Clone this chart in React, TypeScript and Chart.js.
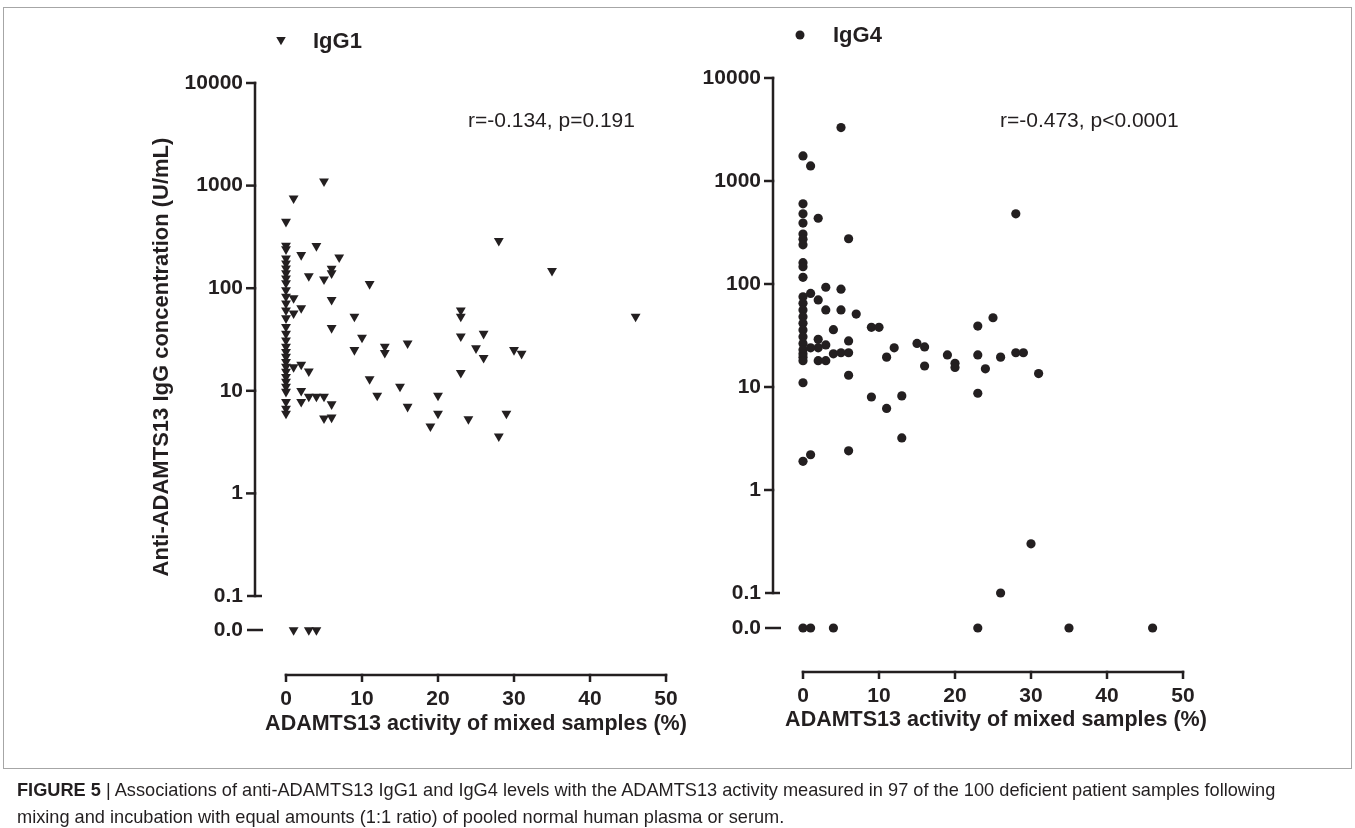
import React, { useEffect, useRef } from 'react';
import { Chart, registerables } from 'chart.js';

Chart.register(...registerables);

// ---------- data ----------
const xTicks = [0, 10, 20, 30, 40, 50];
const yTicks = [0, 0.1, 1, 10, 100, 1000, 10000];
const yTickLabels = ['0.0', '0.1', '1', '10', '100', '1000', '10000'];

// IgG1 (left panel): x = ADAMTS13 activity (%), y = concentration (U/mL); 0 = "0.0" row
const igg1X = [
  0, 0, 0, 0, 0, 0, 0, 0, 0, 0, 0, 0, 0, 0, 0, 0, 0, 0, 0, 0, 0, 0, 0, 0, 0, 0, 0, 0, 0, 0,
  1, 5, 2, 4, 7, 6, 6, 3, 5, 11, 6, 1, 2, 1, 9, 6, 28, 23, 23, 23, 26, 25, 10, 2, 1, 3, 2, 2,
  3, 4, 5, 6, 5, 6, 9, 13, 13, 16, 26, 23, 11, 15, 12, 20, 16, 20, 24, 19, 28, 29, 35, 46, 30, 31,
  1, 3, 4,
];
const igg1Y = [
  445, 260, 240, 195, 175, 156, 140, 125, 112, 96, 83, 71, 61, 51, 42, 36, 31, 27, 24, 21.5,
  19.2, 17.2, 15.4, 13.7, 12.3, 11, 9.8, 7.8, 6.7, 6.0,
  750, 1100, 211, 258, 200, 155, 140, 131, 122, 110, 77, 80, 64, 57, 53, 41, 290, 61, 53, 34,
  36, 26, 33, 18, 17, 15.5, 10, 7.8,
  8.8, 8.8, 8.8, 7.4, 5.4, 5.5, 25, 27, 23.5, 29, 21, 15, 13, 11, 9, 9, 7, 6, 5.3, 4.5, 3.6, 6,
  148, 53, 25, 23,
  0, 0, 0,
];

// IgG4 (right panel)
const igg4X = [
  0, 0, 0, 0, 0, 0, 0, 0, 0, 0, 0, 0, 0, 0, 0, 0, 0, 0, 0, 0, 0, 0, 0, 0, 0,
  5, 1, 2, 6, 28, 1, 3, 5, 2, 3, 5, 7, 4, 9, 10, 23, 25, 2, 6, 3, 12, 15, 16, 2, 2, 3, 4, 5, 6,
  6, 11, 16, 19, 20, 20, 23, 24, 26, 28, 29, 31, 9, 11, 13, 23, 13, 1, 6, 30, 26, 1,
  1, 4, 23, 35, 46,
];
const igg4Y = [
  1750, 600, 480, 390, 305, 272, 240, 161, 147, 116, 75, 65, 56, 48, 41.5, 35.7, 30.8, 26.5,
  23, 21, 19.5, 18, 11, 1.9, 0,
  3300, 1400, 435, 275, 480, 81, 93, 89, 70, 56, 56, 51, 36, 38, 38, 39, 47, 29, 28, 25.6, 24,
  26.5, 24.5, 24, 18, 18, 21, 21.5, 21.5,
  13, 19.5, 16, 20.5, 17, 15.5, 20.5, 15, 19.5, 21.5, 21.5, 13.5, 8, 6.2, 8.2, 8.7, 3.2, 2.2,
  2.4, 0.3, 0.1, 24,
  0, 0, 0, 0, 0,
];

// ---------- styling / layout ----------
const INK = '#231f20';
const FONT = '"Liberation Sans", Arial, Helvetica, sans-serif';
const W = 1355;
const H = 828;
const Y_W = 80;
const X_H = 90;

type Panel = {
  axisX: number;
  xZero: number;
  xFifty: number;
  yTop: number;
  yPoint1: number;
  yZero: number;
  xAxisGap: number;
  labelCenter: number;
  xTitle: string;
  xTitleX: number;
  xTitleY: number;
  yTitle?: string;
  yTitleX?: number;
  yTitleY?: number;
  legend: string;
  legendMarkX: number;
  legendTextX: number;
  legendY: number;
  note: string;
  noteX: number;
  noteY: number;
  marker: 'triangle' | 'circle';
  xs: number[];
  ys: number[];
};

const panels: Panel[] = [
  {
    axisX: 255, xZero: 286, xFifty: 666,
    yTop: 83, yPoint1: 596, yZero: 630,
    xAxisGap: 45, labelCenter: 699,
    xTitle: 'ADAMTS13 activity of mixed samples (%)', xTitleX: 476, xTitleY: 724,
    yTitle: 'Anti-ADAMTS13 IgG concentration (U/mL)', yTitleX: 162, yTitleY: 357,
    legend: 'IgG1', legendMarkX: 281, legendTextX: 313, legendY: 42,
    note: 'r=-0.134, p=0.191', noteX: 468, noteY: 121,
    marker: 'triangle', xs: igg1X, ys: igg1Y,
  },
  {
    axisX: 773, xZero: 803, xFifty: 1183,
    yTop: 78, yPoint1: 593, yZero: 628,
    xAxisGap: 44, labelCenter: 696,
    xTitle: 'ADAMTS13 activity of mixed samples (%)', xTitleX: 996, xTitleY: 720,
    legend: 'IgG4', legendMarkX: 800, legendTextX: 833, legendY: 36,
    note: 'r=-0.473, p<0.0001', noteX: 1000, noteY: 121,
    marker: 'circle', xs: igg4X, ys: igg4Y,
  },
];

function PanelChart({ p }: { p: Panel }) {
  const ref = useRef<HTMLCanvasElement | null>(null);

  useEffect(() => {
    const canvas = ref.current;
    if (!canvas) return;
    const decade = (p.yPoint1 - p.yTop) / 5;
    const zeroVal = Math.pow(10, -1 - (p.yZero - p.yPoint1) / decade);
    const pxPerUnit = (p.xFifty - p.xZero) / 50;
    const xMin = -(p.xZero - p.axisX) / pxPerUnit;
    const tickFont = { family: FONT, size: 21, weight: 'bold' as const, lineHeight: 1.2 };
    const xPad = p.labelCenter - p.yZero - (21 * 1.2) / 2;

    const axisPlugin = {
      id: 'brokenAxes',
      beforeDatasetsDraw(chart: any) {
        const ctx = chart.ctx as CanvasRenderingContext2D;
        const xs = chart.scales.x;
        const ys = chart.scales.y;
        const ax = chart.chartArea.left;
        const lw = 2.5;
        ctx.save();
        ctx.strokeStyle = INK;
        ctx.lineWidth = lw;
        ctx.lineCap = 'butt';
        const yTopPx = ys.getPixelForValue(10000);
        const y01 = ys.getPixelForValue(0.1);
        const y00 = ys.getPixelForValue(zeroVal);
        ctx.beginPath();
        ctx.moveTo(ax, yTopPx - lw / 2);
        ctx.lineTo(ax, y01 + lw / 2);
        ctx.stroke();
        [10000, 1000, 100, 10, 1].forEach((v) => {
          const py = ys.getPixelForValue(v);
          ctx.beginPath();
          ctx.moveTo(ax - 9, py);
          ctx.lineTo(ax + lw / 2, py);
          ctx.stroke();
        });
        ctx.beginPath();
        ctx.moveTo(ax - 8, y01);
        ctx.lineTo(ax + 7, y01);
        ctx.stroke();
        ctx.beginPath();
        ctx.moveTo(ax - 8, y00);
        ctx.lineTo(ax + 8, y00);
        ctx.stroke();
        const xa = chart.chartArea.bottom + p.xAxisGap;
        const x0 = xs.getPixelForValue(xTicks[0]);
        const x1 = xs.getPixelForValue(xTicks[xTicks.length - 1]);
        ctx.beginPath();
        ctx.moveTo(x0 - lw / 2, xa);
        ctx.lineTo(x1 + lw / 2, xa);
        ctx.stroke();
        xTicks.forEach((v) => {
          const px = xs.getPixelForValue(v);
          ctx.beginPath();
          ctx.moveTo(px, xa - lw / 2);
          ctx.lineTo(px, xa + 7);
          ctx.stroke();
        });
        ctx.restore();
      },
      afterDraw(chart: any) {
        const ctx = chart.ctx as CanvasRenderingContext2D;
        ctx.save();
        ctx.fillStyle = INK;
        ctx.textBaseline = 'middle';
        ctx.font = `bold 21.5px ${FONT}`;
        ctx.textAlign = 'center';
        ctx.fillText(p.xTitle, p.xTitleX, p.xTitleY);
        if (p.yTitle) {
          ctx.save();
          ctx.translate(p.yTitleX as number, p.yTitleY as number);
          ctx.rotate(-Math.PI / 2);
          ctx.font = `bold 22px ${FONT}`;
          ctx.fillText(p.yTitle, 0, 0);
          ctx.restore();
        }
        const mx = p.legendMarkX;
        const my = p.legendY - 1;
        ctx.beginPath();
        if (p.marker === 'triangle') {
          const r = 5.5;
          ctx.moveTo(mx, my + r * 0.75);
          ctx.lineTo(mx - 0.866 * r, my - 0.75 * r);
          ctx.lineTo(mx + 0.866 * r, my - 0.75 * r);
          ctx.closePath();
        } else {
          ctx.arc(mx, my, 4.5, 0, Math.PI * 2);
        }
        ctx.fill();
        ctx.font = `bold 22px ${FONT}`;
        ctx.textAlign = 'left';
        ctx.fillText(p.legend, p.legendTextX, p.legendY);
        ctx.font = `21px ${FONT}`;
        ctx.fillText(p.note, p.noteX, p.noteY);
        ctx.restore();
      },
    };

    const chart = new Chart(canvas, {
      type: 'scatter',
      data: {
        datasets: [
          {
            label: p.legend,
            data: p.xs.map((x, i) => ({ x, y: p.ys[i] === 0 ? zeroVal : p.ys[i] })),
            pointStyle: p.marker,
            rotation: p.marker === 'triangle' ? 180 : 0,
            pointRadius: p.marker === 'triangle' ? 5.7 : 4.6,
            pointHoverRadius: p.marker === 'triangle' ? 5.7 : 4.6,
            backgroundColor: INK,
            borderColor: INK,
            borderWidth: 0,
            clip: false as any,
            showLine: false,
          },
        ],
      },
      options: {
        responsive: false,
        maintainAspectRatio: false,
        animation: false,
        events: [],
        layout: {
          padding: {
            left: p.axisX - Y_W,
            right: W - p.xFifty,
            top: p.yTop,
            bottom: H - p.yZero - X_H,
          },
        },
        plugins: {
          legend: { display: false },
          tooltip: { enabled: false },
          title: { display: false },
        },
        scales: {
          x: {
            type: 'linear',
            min: xMin,
            max: 50,
            bounds: 'data',
            afterBuildTicks: (s: any) => {
              s.ticks = xTicks.map((v) => ({ value: v }));
            },
            afterFit: (s: any) => {
              s.height = X_H;
            },
            grid: { display: false, drawTicks: false },
            border: { display: false },
            ticks: {
              font: tickFont,
              color: INK,
              padding: xPad,
              maxRotation: 0,
              minRotation: 0,
              autoSkip: false,
              callback: (v: any) => String(v),
            },
          },
          y: {
            type: 'logarithmic',
            min: zeroVal,
            max: 10000,
            bounds: 'data',
            afterBuildTicks: (s: any) => {
              s.ticks = yTicks.map((v) => ({ value: v === 0 ? zeroVal : v }));
            },
            afterFit: (s: any) => {
              s.width = Y_W;
            },
            grid: { display: false, drawTicks: false },
            border: { display: false },
            ticks: {
              font: tickFont,
              color: INK,
              padding: 12,
              autoSkip: false,
              callback: (_v: any, i: number) => yTickLabels[i],
            },
          },
        },
      },
      plugins: [axisPlugin],
    } as any);

    return () => chart.destroy();
  }, [p]);

  return (
    <canvas
      ref={ref}
      width={W}
      height={H}
      style={{ position: 'absolute', left: 0, top: 0, width: W, height: H }}
    />
  );
}

export default function App() {
  return (
    <div style={{ position: 'absolute', left: 0, top: 0, width: W, height: H, background: '#fff', overflow: 'hidden' }}>
      <div
        style={{
          position: 'absolute', left: 3, top: 7, width: 1349, height: 762,
          border: '1px solid #a6a6a6', boxSizing: 'border-box',
        }}
      />
      {panels.map((p, i) => (
        <PanelChart key={i} p={p} />
      ))}
      <div
        style={{
          position: 'absolute', left: 17, top: 777, fontFamily: FONT, fontSize: 18.2,
          lineHeight: '27px', color: INK, whiteSpace: 'nowrap',
        }}
      >
        <b>FIGURE 5</b> | Associations of anti-ADAMTS13 IgG1 and IgG4 levels with the ADAMTS13 activity measured in 97 of the 100 deficient patient samples following
        <br />
        mixing and incubation with equal amounts (1:1 ratio) of pooled normal human plasma or serum.
      </div>
    </div>
  );
}
